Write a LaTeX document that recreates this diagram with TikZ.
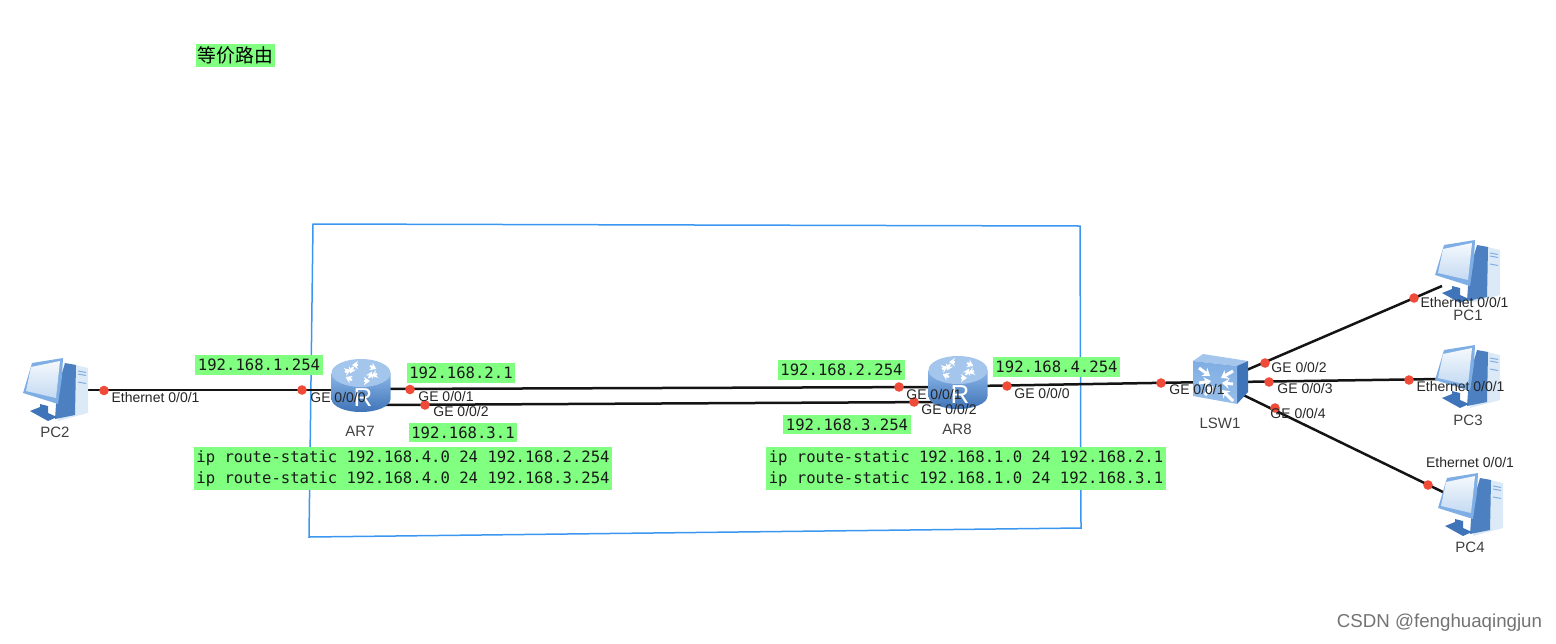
\documentclass[tikz,border=0pt]{standalone}
\usepackage{fontspec}
\setmainfont{Liberation Sans}
\setmonofont{DejaVu Sans Mono}
\newfontfamily\cjkfont{Noto Sans CJK SC}
\usepackage{tikz}
\usetikzlibrary{arrows.meta}
\usepackage{xcolor}
\definecolor{hlgreen}{HTML}{80FF80}
\definecolor{framblue}{HTML}{3A96EE}
\definecolor{portred}{HTML}{F04A38}
\definecolor{linkblack}{HTML}{141414}
\definecolor{iconlight}{HTML}{DCE9F7}
\definecolor{iconmid}{HTML}{7FAEE4}
\definecolor{icondark}{HTML}{3F74B8}
\tikzset{
  link/.style={line width=1.25pt, linkblack},
  portdot/.style={circle, fill=portred, minimum size=4.8pt, inner sep=0pt},
  portlabel/.style={font=\fontsize{7}{8}\selectfont, inner sep=0pt, text=black!85},
  devlabel/.style={font=\fontsize{7.5}{9}\selectfont, inner sep=0pt, text=black!75},
  devnode/.style={inner sep=0pt, minimum size=1pt},
  ipbox/.style={fill=hlgreen, inner xsep=1.4pt, inner ysep=2pt, align=left,
    font=\ttfamily\fontsize{7.8}{10.2}\selectfont, text=black!90},
  pcicon/.pic={
    % tower
    \fill[iconlight] (16,-26) -- (33,-22) -- (33,23) -- (3,31) -- cycle;
    \fill[icondark!80!iconmid] (10,-27) -- (21,-25) -- (20,25) -- (0,29) -- (2,0) -- cycle;
    \foreach \sy in {-19,-16,-8}
      \draw[iconmid, line width=0.5pt] (23,\sy) -- (31,\sy+1.5);
    % stand
    \fill[icondark] (-15,14) -- (-7,16) -- (-7,23) -- (2,27) -- (-7,31) -- (-25,21) -- (-15,17) -- cycle;
    % monitor
    \fill[iconmid] (-23,-27) -- (8,-32) -- (7,-13) -- (3,14) -- (-32,3) -- cycle;
    \shade[top color=white!92!iconmid, bottom color=iconlight!75!iconmid]
      (-24,-23) -- (5,-29) -- (1,8) -- (-29,1) -- cycle;
  },
  routericon/.pic={
    \shade[top color=iconmid!90!white, bottom color=icondark]
      (-29.5,-13) -- (-29.5,13) arc[start angle=180, end angle=0, x radius=29.5, y radius=13]
      -- (29.5,-13) -- cycle;
    \fill[iconmid!70!white] (0,-13) ellipse[x radius=29.5, y radius=14];
    \foreach \ang/\bx/\by in {25/9/-20, 205/-9/-6, 115/-8/-19, 295/8/-8}
      \draw[white, line width=1.1pt, -{Stealth[length=3pt,width=4pt]}]
        (\bx,\by) -- ++(\ang:7);
    \foreach \ang/\bx/\by in {180/-3/-21, 0/3/-5, 160/16/-12, 340/-16/-14}
      \draw[white, line width=1.1pt, -{Stealth[length=3pt,width=4pt]}]
        (\bx,\by) -- ++(\ang:6);
    \node[text=white, inner sep=0pt, font=\fontsize{13}{13}\selectfont] (-rmark) at (2,12) {R};
  },
  switchicon/.pic={
    \fill[iconmid!70!white] (-26,-19) -- (-16,-26) -- (29,-19) -- (18,-14) -- cycle;
    \fill[icondark] (18,-14) -- (29,-19) -- (29,12) -- (18,24) -- cycle;
    \shade[top color=iconmid, bottom color=iconmid!80!white]
      (-26,-19) -- (18,-14) -- (18,24) -- (-26,16) -- cycle;
    \foreach \ax/\ay/\bx/\by in {-20/-12/-9/-4, 14/-9/2/-2, -14/15/-6/6, 14/21/3/10, -20/3/-8/1, 14/4/3/3}
      \draw[white, line width=1.5pt, -{Stealth[length=3.5pt,width=5pt]}] (\ax,\ay) -- (\bx,\by);
  },
}
\begin{document}
\begin{tikzpicture}[x=0.5pt, y=-0.5pt]
\useasboundingbox (0,0) rectangle (1556,643);

% Devices
\node[devnode] (pc2) at (55,390) {};
\node[devnode] (ar7) at (361,386) {};
\node[devnode] (ar8) at (958,383) {};
\node[devnode] (lsw1) at (1219,380) {};
\node[devnode] (pc1) at (1467,272) {};
\node[devnode] (pc3) at (1467,377) {};
\node[devnode] (pc4) at (1470,505) {};

% Frame
\draw[framblue, line width=0.75pt] (313,224) -- (1080,226) -- (1081,528) -- (309,537) -- cycle;

% Device sides of the links
\coordinate (ar7w) at (345,390);
\coordinate (ar7u) at (380,389);
\coordinate (ar7l) at (380,405);
\coordinate (ar8u) at (940,387);
\coordinate (ar8l) at (940,402);
\coordinate (ar8e) at (975,386);
\coordinate (lsww) at (1210,382);
\coordinate (lswu) at (1235,375);
\coordinate (lswm) at (1235,382);
\coordinate (lswl) at (1235,391);
\coordinate (pc1w) at (1442,286);
\coordinate (pc3w) at (1440,379);
\coordinate (pc4w) at (1445,493);

% Links
\draw[link] (pc2) -- (ar7w);
\draw[link] (ar7u) -- (ar8u);
\draw[link] (ar7l) -- (ar8l);
\draw[link] (ar8e) -- (lsww);
\draw[link] (lswu) -- (pc1w);
\draw[link] (lswm) -- (pc3w);
\draw[link] (lswl) -- (pc4w);

% Icons
\pic (ipc2) at (pc2) {pcicon};
\pic (iar7) at (ar7) {routericon};
\pic (iar8) at (ar8) {routericon};
\pic (ilsw) at (lsw1) {switchicon};
\pic (ipc1) at (pc1) {pcicon};
\pic (ipc3) at (pc3) {pcicon};
\pic (ipc4) at (pc4) {pcicon};

% Port dots
\node[portdot] (dpc2) at (104,390.5) {};
\node[portdot] (dar7w) at (302,390) {};
\node[portdot] (dar7u) at (410,389.5) {};
\node[portdot] (dar7l) at (425,405) {};
\node[portdot] (dar8u) at (899,387) {};
\node[portdot] (dar8l) at (914,402) {};
\node[portdot] (dar8e) at (1007,386) {};
\node[portdot] (dlsww) at (1161,383) {};
\node[portdot] (dlswu) at (1265,363) {};
\node[portdot] (dlswm) at (1269,382) {};
\node[portdot] (dlswl) at (1275,408) {};
\node[portdot] (dpc1) at (1414,298) {};
\node[portdot] (dpc3) at (1409,380) {};
\node[portdot] (dpc4) at (1428,485) {};

% Port labels
\node[portlabel] (lpc2) at (155.5,397) {Ethernet 0/0/1};
\node[portlabel] (lar7w) at (338,397) {GE 0/0/0};
\node[portlabel] (lar7u) at (446,396) {GE 0/0/1};
\node[portlabel] (lar7l) at (461,411) {GE 0/0/2};
\node[portlabel] (lar8u) at (934,394) {GE 0/0/1};
\node[portlabel] (lar8l) at (949,409) {GE 0/0/2};
\node[portlabel] (lar8e) at (1042,393) {GE 0/0/0};
\node[portlabel] (llsww) at (1197,389) {GE 0/0/1};
\node[portlabel] (llswu) at (1299,367) {GE 0/0/2};
\node[portlabel] (llswm) at (1305,388) {GE 0/0/3};
\node[portlabel] (llswl) at (1298,413) {GE 0/0/4};
\node[portlabel] (lpc1) at (1464.5,302) {Ethernet 0/0/1};
\node[portlabel] (lpc3) at (1460.5,386) {Ethernet 0/0/1};
\node[portlabel] (lpc4) at (1470,462) {Ethernet 0/0/1};

% Device labels
\node[devlabel] (npc2) at (55,432) {PC2};
\node[devlabel] (nar7) at (360,431) {AR7};
\node[devlabel] (nar8) at (957,429) {AR8};
\node[devlabel] (nlsw) at (1220,423) {LSW1};
\node[devlabel] (npc1) at (1468,315) {PC1};
\node[devlabel] (npc3) at (1468,420) {PC3};
\node[devlabel] (npc4) at (1470,547) {PC4};

% Notes
\node[fill=hlgreen, inner xsep=1pt, inner ysep=1.5pt, font=\cjkfont\fontsize{9.4}{10}\selectfont] (title) at (235.5,55.5) {等价路由};
\node[ipbox] (ip1) at (259,365) {192.168.1.254};
\node[ipbox] (ip2) at (461,373) {192.168.2.1};
\node[ipbox] (ip3) at (463,432.5) {192.168.3.1};
\node[ipbox] (ip4) at (841.5,370) {192.168.2.254};
\node[ipbox] (ip5) at (847,424.5) {192.168.3.254};
\node[ipbox] (ip6) at (1056.5,367) {192.168.4.254};
\node[ipbox] (rt7) at (403,468.5) {ip route-static 192.168.4.0 24 192.168.2.254\\ip route-static 192.168.4.0 24 192.168.3.254};
\node[ipbox] (rt8) at (966,468.5) {ip route-static 192.168.1.0 24 192.168.2.1\\ip route-static 192.168.1.0 24 192.168.3.1};

% Watermark
\node[inner sep=0pt, text=black!55, font=\fontsize{9.35}{11}\selectfont] (mark) at (1439.5,623) {CSDN @fenghuaqingjun};
\end{tikzpicture}
\end{document}
